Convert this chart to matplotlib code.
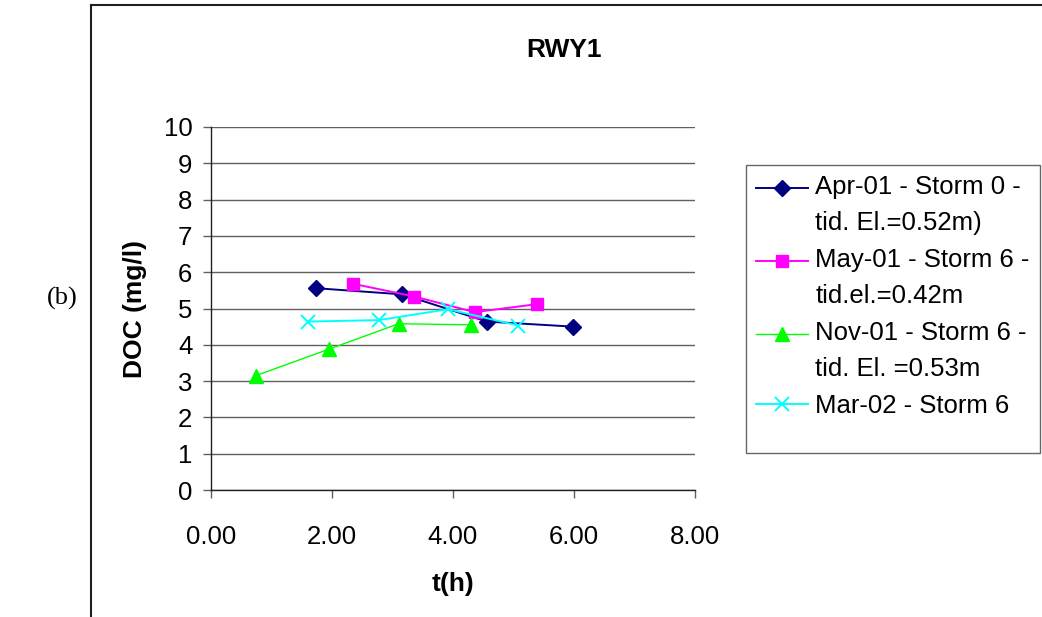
import matplotlib
matplotlib.use("Agg")
import matplotlib.pyplot as plt
from matplotlib.lines import Line2D
from matplotlib.offsetbox import DrawingArea, TextArea

plt.rcParams['font.family'] = ['Liberation Sans', 'DejaVu Sans']

title = "RWY1"
xlabel = "t(h)"
ylabel = "DOC (mg/l)"
panel_label = "(b)"

series_labels = [
    "Apr-01 - Storm 0 -\ntid. El.=0.52m)",
    "May-01 - Storm 6 -\ntid.el.=0.42m",
    "Nov-01 - Storm 6 -\ntid. El. =0.53m",
    "Mar-02 - Storm 6",
]
apr01_t = [1.73, 3.16, 4.56, 5.99]
apr01_doc = [5.56, 5.39, 4.64, 4.50]
may01_t = [2.35, 3.36, 4.36, 5.39]
may01_doc = [5.68, 5.33, 4.90, 5.12]
nov01_t = [0.74, 1.95, 3.10, 4.29]
nov01_doc = [3.15, 3.88, 4.58, 4.55]
mar02_t = [1.60, 2.77, 3.92, 5.08]
mar02_doc = [4.64, 4.68, 4.98, 4.53]

xticks = [0, 2, 4, 6, 8]
xtick_labels = ["0.00", "2.00", "4.00", "6.00", "8.00"]
yticks = list(range(0, 11))

W, H = 1042, 617
FS = 18.5
fig = plt.figure(figsize=(W / 100, H / 100), dpi=100)
ax = fig.add_axes([211 / W, 1 - 490 / H, (695 - 211) / W, (490 - 127) / H])

styles = [
    dict(color="#000080", marker="D", markersize=8.5, lw=1.4),
    dict(color="#FF00FF", marker="s", markersize=9, lw=1.4),
    dict(color="#00FF00", marker="^", markersize=10, lw=1.0),
    dict(color="#00FFFF", marker="x", markersize=10, lw=1.4, mew=1.4),
]
data = [(apr01_t, apr01_doc), (may01_t, may01_doc), (nov01_t, nov01_doc), (mar02_t, mar02_doc)]
handles = []
for (t, d), lab, st in zip(data, series_labels, styles):
    h, = ax.plot(t, d, label=lab, color=st["color"], marker=st["marker"],
                 markersize=st["markersize"], lw=st["lw"], mew=st.get("mew", 1.0),
                 mec=st["color"], mfc=st["color"], zorder=3, clip_on=False)
    handles.append(h)

ax.set_xlim(0, 8)
ax.set_ylim(0, 10)
ax.set_xticks(xticks)
ax.set_xticklabels(xtick_labels)
ax.set_yticks(yticks)
ax.grid(axis="y", color="#606060", lw=1.0)
ax.set_axisbelow(True)
for s in ["top", "right"]:
    ax.spines[s].set_visible(False)
for s in ["left", "bottom"]:
    ax.spines[s].set_color("#202020")
    ax.spines[s].set_linewidth(1.0)
ax.tick_params(axis="both", labelsize=FS, length=5.5, width=1.0, color="#606060", direction="out")
ax.tick_params(axis="x", pad=20)
ax.tick_params(axis="y", pad=8)

ax.set_xlabel(xlabel, fontsize=19, fontweight="bold", labelpad=16)
ax.set_ylabel(ylabel, fontsize=19, fontweight="bold", labelpad=12)
fig.text(564 / W, 1 - 50 / H, title, fontsize=19, fontweight="bold", ha="center", va="center")
fig.text(62 / W, 1 - 298 / H, panel_label, fontsize=19, family="Liberation Serif", ha="center", va="center")

# chart frame (clipped at right and bottom in reference)
fig.add_artist(Line2D([91 / W, 91 / W], [0, 1 - 5 / H], transform=fig.transFigure, color="#202020", lw=1.5))
fig.add_artist(Line2D([91 / W, 1], [1 - 5 / H, 1 - 5 / H], transform=fig.transFigure, color="#202020", lw=1.5))

blank = Line2D([], [], color="none")
leg = fig.legend(handles=handles + [blank], labels=series_labels + [" "], loc="upper left",
                 bbox_to_anchor=(746 / W, 1 - 165 / H),
                 bbox_transform=fig.transFigure, fontsize=FS, frameon=True, fancybox=False,
                 edgecolor="#404040", handlelength=2.0, handletextpad=0.3, labelspacing=0.53,
                 borderpad=0.4, borderaxespad=0)
leg.get_frame().set_linewidth(1.0)
for txt in leg.get_texts():
    txt.set_linespacing(1.6)
leg.get_texts()[-1].set_fontsize(1)

# align the handles of two-line entries with the first text line (as in Excel)
shift_pt = 12.4
for column in leg._legend_handle_box.get_children():
    for row in column.get_children():
        parts = row.get_children()
        da = [p for p in parts if isinstance(p, DrawingArea)]
        ta = [p for p in parts if isinstance(p, TextArea)]
        if not (da and ta):
            continue
        if "\n" in ta[0].get_text():
            for art in da[0].get_children():
                if isinstance(art, Line2D):
                    art.set_ydata([y + shift_pt for y in art.get_ydata()])
        elif ta[0].get_text().strip() == "":
            da[0].height = 8

fig.savefig("out.png", dpi=100)
